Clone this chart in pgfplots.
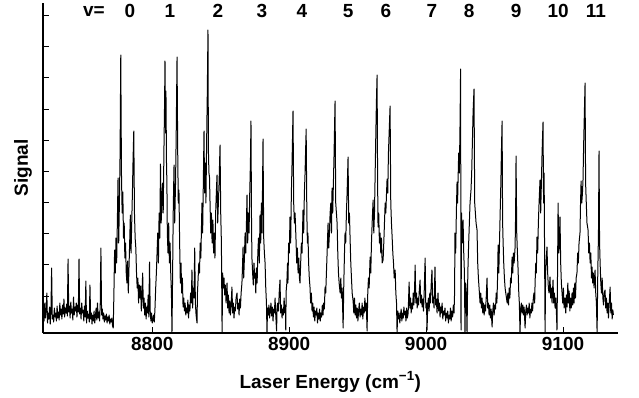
\documentclass[border=0pt]{standalone}
\usepackage{fontspec}
\setmainfont{Liberation Sans}
\usepackage{pgfplots}
\pgfplotsset{compat=1.18}
\begin{document}
\begin{tikzpicture}
\begin{axis}[
  at={(0,0)}, anchor=south west,
  scale only axis, width=574.5bp, height=330bp,
  xmin=8720.2, xmax=9139.8, ymin=0, ymax=330,
  axis x line*=bottom, axis y line*=left,
  axis line style={line width=1.5bp},
  tick align=inside, major tick length=6bp,
  xtick={8800,8900,9000,9100},
  ytick={37,68.5,100,131,162,193,224,256,287,318},
  yticklabels={},
  tick style={line width=0.9bp, black},
  /pgf/number format/assume math mode=true,
  /pgf/number format/1000 sep={},
  xticklabel style={font=\fontsize{19bp}{22bp}\selectfont\bfseries, yshift=-1bp},
  xlabel={Laser Energy (cm\textsuperscript{−1})},
  xlabel style={font=\fontsize{19bp}{22bp}\selectfont\bfseries, at={(axis description cs:0.5,0)}, anchor=center, yshift=-49bp},
  ylabel={Signal},
  ylabel style={font=\fontsize{19bp}{22bp}\selectfont\bfseries, at={([xshift=-20bp]axis description cs:0,0.5)}, anchor=center},
  clip=false,
]
\addplot[black, line width=1bp, line join=round, mark=none] coordinates {
(8720.0,18)(8720.5,24)(8721.0,12)(8721.5,30)(8722.0,15)(8722.5,22)(8723.0,40)(8723.5,10)(8724.0,20)(8724.5,14)(8725.0,26)(8725.5,9)(8726.0,22)(8726.5,65)(8727.0,14)(8727.5,18)(8728.0,11)(8728.5,25)(8729.0,16)(8729.5,20)(8730.0,12)(8730.5,27)(8731.0,15)(8731.5,21)(8732.0,13)(8732.5,30)(8733.0,18)(8733.5,24)(8734.0,14)(8734.5,28)(8735.0,19)(8735.5,34)(8736.0,16)(8736.5,25)(8737.0,20)(8737.5,29)(8738.0,17)(8738.5,74)(8739.0,21)(8739.5,27)(8740.0,15)(8740.5,31)(8741.0,20)(8741.5,24)(8742.0,13)(8742.5,36)(8743.0,18)(8743.5,26)(8744.0,22)(8744.5,30)(8745.0,16)(8745.5,28)(8746.0,21)(8746.5,74)(8747.0,19)(8747.5,25)(8748.0,14)(8748.5,30)(8749.0,20)(8749.5,23)(8750.0,12)(8750.5,27)(8751.0,16)(8751.5,52)(8752.0,10)(8752.5,22)(8753.0,15)(8753.5,19)(8754.0,11)(8754.5,48)(8755.0,14)(8755.5,20)(8756.0,9)(8756.5,18)(8757.0,12)(8757.5,22)(8758.0,10)(8758.5,17)(8759.0,25)(8759.5,13)(8760.0,30)(8760.5,15)(8761.0,21)(8761.5,12)(8762.0,28)(8762.5,85)(8763.0,18)(8763.5,24)(8764.0,14)(8764.5,20)(8765.0,11)(8765.5,17)(8766.0,13)(8766.5,19)(8767.0,10)(8767.5,16)(8768.0,12)(8768.5,18)(8769.0,9)(8769.5,14)(8770.0,11)(8770.5,15)(8771.0,7)(8771.5,5)
(8772.0,40)(8772.5,83)(8773.0,60)(8773.5,95)(8774.0,70)(8774.5,110)(8775.0,155)(8775.5,90)(8776.0,130)(8776.5,180)(8777.0,278)(8777.5,160)(8778.0,120)(8778.5,141)(8779.0,95)(8779.5,110)(8780.0,75)(8780.5,90)(8781.0,60)(8781.5,50)(8782.0,72)(8782.5,40)(8783.0,65)(8783.5,90)(8784.0,118)(8784.5,80)(8785.0,110)(8785.5,140)(8786.0,175)(8786.5,202)(8787.0,120)(8787.5,95)(8788.0,85)(8788.5,60)(8789.0,45)(8789.5,55)(8790.0,30)(8790.5,48)(8791.0,35)(8791.5,47)(8792.0,22)(8792.5,40)(8793.0,60)(8793.5,25)(8794.0,35)(8794.5,18)(8795.0,30)(8795.5,14)(8796.0,26)(8796.5,20)(8797.0,38)(8797.5,16)(8798.0,71)(8798.5,22)(8799.0,12)(8799.5,20)(8800.0,10)(8800.5,13)(8801.0,18)(8801.5,11)(8802.0,25)(8802.5,45)
(8803.0,60)(8803.5,80)(8804.0,100)(8804.5,70)(8805.0,120)(8805.5,95)(8806.0,169)(8806.5,110)(8807.0,130)(8807.5,150)(8808.0,120)(8808.5,180)(8809.0,230)(8809.3,272)(8809.7,200)(8810.0,242)(8810.4,170)(8810.7,150)(8811.0,100)(8811.5,80)(8812.0,110)(8812.5,70)(8813.0,90)(8813.5,60)(8814.0,40)(8814.4,0)(8814.8,50)(8815.3,120)(8815.9,168)(8816.4,110)(8817.0,150)(8817.5,200)(8818.1,276)(8818.6,180)(8819.0,130)(8819.5,143)(8820.0,90)(8820.5,50)(8821.0,70)(8821.5,40)(8822.0,55)(8822.5,26)(8823.0,35)(8823.5,22)(8824.0,30)(8824.5,18)(8825.0,25)(8825.5,20)(8826.0,33)(8826.5,15)(8827.0,28)(8827.5,22)(8828.0,40)(8828.5,30)(8829.0,63)(8829.5,25)(8830.0,45)(8830.5,35)(8831.0,85)(8831.5,30)(8832.0,18)(8832.7,10)(8833.0,40)(8833.5,55)(8834.0,70)(8834.5,60)(8835.0,90)(8835.5,75)
(8836.0,110)(8836.3,130)(8836.8,100)(8837.3,150)(8837.8,202)(8838.2,140)(8838.7,170)(8839.2,130)(8839.7,190)(8840.2,240)(8840.7,303)(8841.0,183)(8841.4,160)(8841.8,156)(8842.2,130)(8842.7,100)(8843.2,120)(8843.7,90)(8844.3,113)(8844.8,80)(8845.3,100)(8845.8,75)(8846.3,120)(8846.8,140)(8847.3,158)(8847.8,110)(8848.3,130)(8848.8,150)(8849.5,188)(8850.0,120)(8850.5,90)(8851.0,0)(8851.4,60)(8851.9,45)(8852.4,55)(8852.9,38)(8853.4,48)(8853.9,30)(8854.6,50)(8855.1,25)(8855.6,38)(8856.1,20)(8856.6,32)(8857.1,18)(8857.6,28)(8858.2,46)(8858.7,20)(8859.2,30)(8859.7,15)(8860.2,26)(8860.7,22)(8861.2,35)(8861.9,40)(8862.4,24)(8862.9,30)(8863.4,18)(8863.9,34)(8864.4,25)(8864.9,40)
(8865.5,50)(8866.0,70)(8866.3,86)(8866.8,55)(8867.3,75)(8867.8,100)(8868.3,80)(8868.8,110)(8869.2,138)(8869.7,90)(8870.2,120)(8870.7,100)(8871.2,140)(8871.7,170)(8872.1,212)(8872.5,110)(8872.8,75)(8873.3,60)(8873.8,48)(8874.3,70)(8874.8,55)(8875.1,60)(8875.6,40)(8876.1,65)(8876.6,50)(8877.1,80)(8877.6,95)(8878.2,70)(8878.7,118)(8879.2,90)(8879.7,130)(8880.2,100)(8880.9,194)(8881.4,95)(8881.9,80)(8882.4,70)(8882.9,45)(8883.4,30)(8883.8,0)(8884.2,25)(8884.7,18)(8885.2,28)(8885.7,15)(8886.2,22)(8886.7,30)(8887.2,17)(8887.7,26)(8888.2,12)(8888.7,24)(8889.2,20)(8889.7,35)(8890.2,18)(8890.8,2)(8891.2,27)(8891.7,30)(8892.2,22)(8892.7,40)(8893.3,53)(8893.8,20)(8894.3,28)(8894.8,15)(8895.3,24)(8895.8,18)(8896.3,35)(8896.8,20)(8897.3,28)(8897.5,3)(8897.8,42)
(8898.3,50)(8898.8,70)(8899.1,50)(8899.6,90)(8900.1,80)(8900.6,116)(8901.1,90)(8901.6,140)(8902.1,170)(8902.8,222)(8903.3,130)(8903.8,110)(8904.3,120)(8905.0,93)(8905.5,70)(8906.0,85)(8906.5,60)(8907.0,75)(8907.5,55)(8907.9,50)(8908.4,70)(8908.9,90)(8909.4,80)(8910.1,123)(8910.6,100)(8911.1,140)(8911.6,160)(8912.4,204)(8912.9,120)(8913.3,90)(8913.7,100)(8914.2,70)(8914.7,55)(8915.2,46)(8915.7,30)(8916.2,40)(8916.7,22)(8917.2,30)(8917.7,16)(8918.2,26)(8918.7,12)(8919.2,22)(8919.7,18)(8920.2,25)(8920.7,10)(8921.2,20)(8921.7,14)(8922.2,24)(8922.7,12)(8923.2,20)(8923.7,16)(8924.2,28)(8924.7,18)(8925.2,30)(8925.7,24)(8926.2,46)
(8926.7,40)(8927.2,60)(8927.7,80)(8928.4,110)(8928.9,85)(8929.4,100)(8929.9,120)(8930.4,130)(8930.9,100)(8931.3,145)(8931.8,120)(8932.3,150)(8932.8,180)(8933.5,232)(8934.0,130)(8934.5,120)(8935.0,110)(8935.5,80)(8936.0,60)(8936.5,50)(8937.2,40)(8937.7,55)(8938.2,35)(8938.7,45)(8939.4,5)(8939.9,50)(8940.4,80)(8940.8,100)(8941.3,90)(8941.8,120)(8942.3,140)(8943.0,176)(8943.5,110)(8944.0,120)(8944.5,94)(8945.0,70)(8945.5,55)(8946.0,40)(8946.7,32)(8947.2,20)(8947.7,35)(8948.2,18)(8948.7,28)(8949.2,15)(8949.7,25)(8950.2,12)(8950.7,22)(8951.2,30)(8951.8,16)(8952.3,24)(8952.8,18)(8953.3,30)(8953.8,14)(8954.3,26)(8954.8,20)(8955.3,35)(8955.8,22)(8956.3,30)(8956.9,2)(8957.4,40)(8957.9,55)
(8958.4,45)(8959.1,76)(8959.6,60)(8960.1,90)(8960.6,110)(8961.3,133)(8961.8,100)(8962.3,120)(8962.8,160)(8963.3,200)(8963.7,230)(8964.2,258)(8964.6,150)(8964.9,106)(8965.4,120)(8965.9,90)(8966.4,100)(8966.9,80)(8967.4,95)(8967.9,70)(8968.6,73)(8969.1,90)(8969.6,110)(8970.1,130)(8970.6,120)(8971.1,140)(8971.5,154)(8972.0,140)(8972.5,180)(8973.0,200)(8973.7,227)(8974.2,130)(8974.7,110)(8975.2,96)(8975.7,80)(8976.2,70)(8976.7,55)(8977.4,63)(8977.9,40)(8978.4,30)(8978.8,0)(8979.3,22)(8979.8,14)(8980.3,20)(8980.8,10)(8981.3,18)(8981.8,24)(8982.3,12)(8982.8,20)(8983.3,15)(8983.8,26)(8984.3,18)(8984.8,22)(8985.3,12)(8985.8,25)(8986.3,15)(8986.9,20)(8987.6,51)(8988.1,25)(8988.6,35)(8989.1,20)(8989.6,30)(8990.1,24)(8990.6,40)(8991.1,28)(8991.6,45)(8992.0,68)(8992.5,30)(8993.0,40)(8993.5,25)(8994.0,35)(8994.5,28)(8995.0,42)(8995.6,53)(8996.1,30)(8996.6,38)(8997.1,26)(8997.6,34)(8998.1,22)(8998.6,40)(8999.3,75)(8999.8,25)(9000.3,30)(9000.7,3)(9001.2,28)(9001.7,35)(9002.2,22)(9002.7,40)(9003.2,30)(9003.7,48)(9004.3,63)(9004.8,30)(9005.3,36)(9005.8,25)(9006.5,66)(9007.0,28)(9007.5,34)(9008.0,20)(9008.7,40)(9009.2,22)(9009.7,30)(9010.2,16)(9010.7,26)(9011.2,20)(9011.7,30)(9012.2,14)(9012.7,22)(9013.2,18)(9013.8,25)(9014.3,12)(9014.8,20)(9015.3,15)(9015.8,22)(9016.3,10)(9016.8,18)(9017.3,14)(9017.8,25)(9018.3,12)(9018.9,22)(9019.4,16)(9019.9,28)(9020.4,20)(9020.8,40)
(9021.1,100)(9021.6,80)(9022.1,120)(9022.6,151)(9023.0,130)(9023.3,150)(9023.8,180)(9024.3,160)(9024.8,210)(9025.2,264)(9025.5,3)(9025.9,120)(9026.4,90)(9027.0,113)(9027.5,80)(9028.0,60)(9028.4,0)(9028.9,50)(9029.4,40)(9029.9,0)(9030.3,45)(9030.6,66)(9031.1,90)(9031.6,110)(9032.1,130)(9032.8,143)(9033.3,160)(9033.8,190)(9034.3,220)(9035.0,244)(9035.5,130)(9036.0,120)(9036.5,110)(9037.2,103)(9037.7,70)(9038.2,55)(9038.7,45)(9039.4,30)(9039.9,40)(9040.4,25)(9040.9,35)(9041.4,20)(9041.9,30)(9042.4,18)(9042.9,28)(9043.4,22)(9043.9,35)(9044.5,55)(9045.0,25)(9045.5,30)(9046.0,18)(9046.5,28)(9047.0,15)(9047.5,24)(9048.2,6)(9048.7,22)(9049.2,30)(9049.7,18)(9050.2,28)(9050.7,24)(9051.2,40)(9051.7,30)(9052.2,55)
(9052.6,88)(9053.1,60)(9053.6,90)(9054.1,120)(9054.6,150)(9055.0,180)(9055.5,212)(9055.9,110)(9056.2,93)(9056.7,70)(9057.2,55)(9057.7,45)(9058.2,40)(9058.7,35)(9059.2,30)(9059.7,40)(9060.2,28)(9060.7,45)(9061.2,35)(9061.7,55)(9062.2,50)(9062.8,76)(9063.3,60)(9063.8,80)(9064.3,70)(9065.0,86)(9065.4,120)(9065.7,177)(9066.2,100)(9066.7,80)(9067.2,63)(9067.7,40)(9068.1,30)(9068.6,0)(9069.1,25)(9069.6,30)(9070.1,20)(9070.6,28)(9071.1,18)(9071.6,26)(9072.3,5)(9072.8,22)(9073.3,28)(9073.8,18)(9074.3,25)(9074.8,20)(9075.3,30)(9075.8,15)(9076.3,24)(9076.8,20)(9077.3,30)(9077.8,22)(9078.3,35)(9078.8,40)(9079.3,30)(9079.6,50)
(9080.1,70)(9080.5,60)(9081.0,96)(9081.5,80)(9082.0,110)(9082.5,130)(9083.2,153)(9083.7,120)(9084.2,150)(9084.7,180)(9085.4,211)(9085.8,130)(9086.2,160)(9086.5,90)(9086.9,0)(9087.3,60)(9087.8,75)(9088.3,86)(9088.8,60)(9089.3,45)(9089.8,40)(9090.5,56)(9091.0,35)(9091.5,45)(9092.0,30)(9092.7,53)(9093.2,30)(9093.7,40)(9094.2,25)(9094.7,35)(9095.2,20)(9095.6,3)(9096.0,60)(9096.4,130)(9096.9,80)(9097.3,90)(9097.8,116)(9098.3,70)(9098.8,50)(9099.3,40)(9099.8,30)(9100.3,45)(9100.8,25)(9101.5,35)(9102.0,20)(9102.5,38)(9103.0,26)(9103.5,50)(9104.0,30)(9104.5,42)(9105.0,22)(9105.5,35)(9106.0,25)(9106.6,40)(9107.1,28)(9107.6,45)(9108.1,30)(9108.6,50)(9109.1,35)(9109.6,55)
(9110.2,60)(9110.7,80)(9111.2,70)(9111.7,90)(9112.4,100)(9112.8,130)(9113.2,152)(9113.7,130)(9114.2,140)(9114.6,153)(9115.1,190)(9115.6,220)(9116.1,250)(9116.5,150)(9117.0,130)(9117.5,110)(9118.3,103)(9118.8,80)(9119.3,90)(9119.8,70)(9120.3,80)(9120.8,55)(9121.2,66)(9121.7,50)(9122.2,60)(9122.7,45)(9123.4,63)(9123.9,40)(9124.4,30)(9124.9,0)(9125.4,60)(9125.9,100)(9126.3,182)(9126.7,90)(9127.1,70)(9127.6,50)(9128.1,40)(9128.6,55)(9129.1,35)(9129.6,28)(9130.1,40)(9130.7,43)(9131.2,25)(9131.7,35)(9132.2,20)(9132.7,30)(9133.2,15)(9133.7,28)(9134.4,46)(9134.9,20)(9135.4,30)(9135.9,14)(9136.4,23)(9136.8,18)
};
\begin{scope}[font=\fontsize{19bp}{22bp}\selectfont\bfseries]
\node at (axis cs:8757.4,322) {v=};
\node at (axis cs:8783.7,322) {0};
\node at (axis cs:8812.9,322) {1};
\node at (axis cs:8848.0,322) {2};
\node at (axis cs:8880.1,322) {3};
\node at (axis cs:8909.3,322) {4};
\node at (axis cs:8943.0,322) {5};
\node at (axis cs:8970.7,322) {6};
\node at (axis cs:9004.3,322) {7};
\node at (axis cs:9031.4,322) {8};
\node at (axis cs:9065.7,322) {9};
\node at (axis cs:9096.4,322) {10};
\node at (axis cs:9124.1,322) {11};
\end{scope}
\end{axis}
\path[use as bounding box] (-43bp,-65bp) rectangle (596bp,333bp);
\end{tikzpicture}
\end{document}
